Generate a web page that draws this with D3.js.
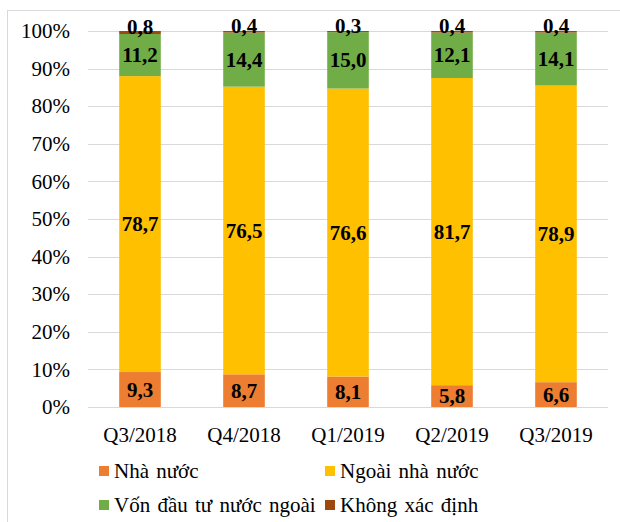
<!DOCTYPE html>
<html>
<head>
<meta charset="utf-8">
<script src="https://cdn.jsdelivr.net/npm/d3@7"></script>
<style>
  body { margin: 0; background: #fff; }
</style>
</head>
<body>
<div id="chart"></div>
<script>
// data
let quarters = ["Q3/2018", "Q4/2018", "Q1/2019", "Q2/2019", "Q3/2019"];
let seriesNames = ["Nhà nước", "Ngoài nhà nước", "Vốn đầu tư nước ngoài", "Không xác định"];
let nhaNuoc = [9.3, 8.7, 8.1, 5.8, 6.6];
let ngoaiNhaNuoc = [78.7, 76.5, 76.6, 81.7, 78.9];
let vonNuocNgoai = [11.2, 14.4, 15.0, 12.1, 14.1];
let khongXacDinh = [0.8, 0.4, 0.3, 0.4, 0.4];
let yTicks = [0, 10, 20, 30, 40, 50, 60, 70, 80, 90, 100];

let colors = ["#ED7D31", "#FFC000", "#70AD47", "#9E480E"];
let width = 620, height = 522;
let serif = "'Liberation Serif', 'DejaVu Serif', serif";

let svg = d3.select("#chart")
    .append("svg")
    .attr("width", width)
    .attr("height", height)
    .attr("font-family", serif);

// chart frame (only top and left edges are in view)
svg.append("rect")
    .attr("x", 7.5)
    .attr("y", 10.5)
    .attr("width", 640)
    .attr("height", 540)
    .attr("fill", "none")
    .attr("stroke", "#D9D9D9");

let x = d3.scaleBand()
    .domain(quarters)
    .range([88, 608])
    .paddingInner(0.6)
    .paddingOuter(0.3);

let y = d3.scaleLinear()
    .domain([0, 100])
    .range([407, 31]);

// gridlines
svg.append("g")
    .selectAll("line")
    .data(yTicks)
    .enter()
    .append("line")
    .attr("x1", 88)
    .attr("x2", 608)
    .attr("y1", d => Math.round(y(d)) + 0.5)
    .attr("y2", d => Math.round(y(d)) + 0.5)
    .attr("stroke", "#D9D9D9")
    .attr("stroke-width", 1);

// y axis labels
let yAxis = svg.append("g")
    .attr("transform", "translate(88,0)")
    .call(d3.axisLeft(y).tickValues(yTicks).tickSize(0).tickPadding(18).tickFormat(d => d + "%"));
yAxis.select(".domain").remove();
yAxis.attr("font-family", serif).attr("font-size", 21);
yAxis.selectAll("text").attr("fill", "#000");

// x axis labels
let xAxis = svg.append("g")
    .attr("transform", "translate(0,407)")
    .call(d3.axisBottom(x).tickSize(0).tickPadding(20));
xAxis.select(".domain").remove();
xAxis.attr("font-family", serif).attr("font-size", 21);
xAxis.selectAll("text").attr("fill", "#000");

// stack
let table = quarters.map((q, i) => ({
    quarter: q,
    "Nhà nước": nhaNuoc[i],
    "Ngoài nhà nước": ngoaiNhaNuoc[i],
    "Vốn đầu tư nước ngoài": vonNuocNgoai[i],
    "Không xác định": khongXacDinh[i]
}));
let stacked = d3.stack().keys(seriesNames)(table);

let layers = svg.append("g")
    .selectAll("g")
    .data(stacked)
    .enter()
    .append("g")
    .attr("fill", (d, i) => colors[i]);

layers.selectAll("rect")
    .data(d => d)
    .enter()
    .append("rect")
    .attr("x", d => x(d.data.quarter))
    .attr("y", d => y(d[1]))
    .attr("width", x.bandwidth())
    .attr("height", d => y(d[0]) - y(d[1]));

// value labels
let labels = svg.append("g");
stacked.forEach(function(layer, li) {
    labels.selectAll(null)
        .data(layer)
        .enter()
        .append("text")
        .attr("x", d => x(d.data.quarter) + x.bandwidth() / 2)
        .attr("y", d => (y(d[0]) + y(d[1])) / 2 + (li == 3 ? -6 : 0))
        .attr("dy", "0.34em")
        .attr("text-anchor", "middle")
        .attr("font-size", 21)
        .attr("font-weight", "bold")
        .attr("fill", "#000")
        .text(d => (d[1] - d[0]).toFixed(1).replace(".", ","));
});

// legend
let legendPos = [[99, 471], [325, 471], [99, 505], [325, 505]];
let legend = svg.append("g")
    .selectAll("g")
    .data(seriesNames)
    .enter()
    .append("g")
    .attr("transform", (d, i) => `translate(${legendPos[i][0]}, ${legendPos[i][1]})`);

legend.append("rect")
    .attr("x", 0)
    .attr("y", -5)
    .attr("width", 10)
    .attr("height", 10)
    .attr("fill", (d, i) => colors[i]);

legend.append("text")
    .attr("x", 15)
    .attr("y", 0)
    .attr("dy", "0.34em")
    .attr("font-size", 21)
    .attr("fill", "#000")
    .attr("word-spacing", 2)
    .text(d => d);
</script>
</body>
</html>
